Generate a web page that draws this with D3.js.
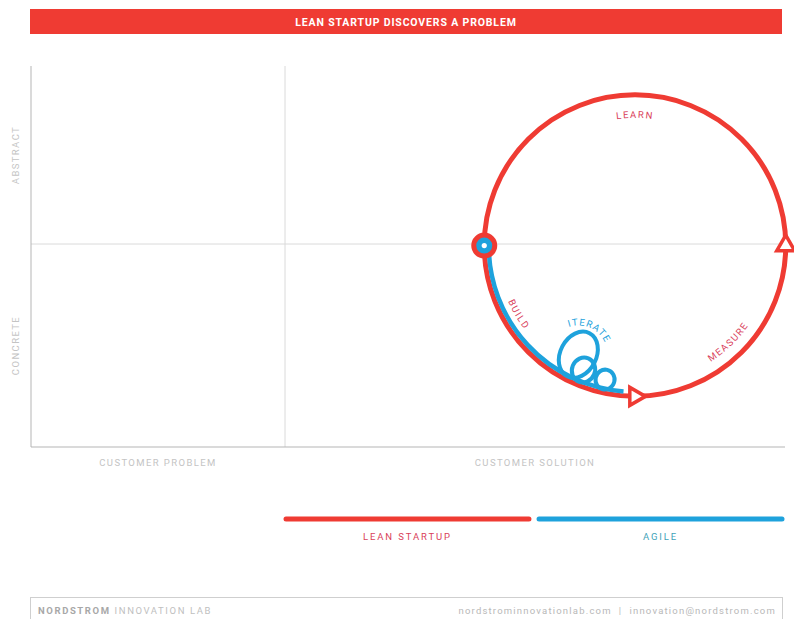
<!DOCTYPE html>
<html><head><meta charset="utf-8">
<script src="https://cdn.jsdelivr.net/npm/d3@7"></script>
<style>
html,body{margin:0;padding:0;background:#fff;}
svg{display:block;font-family:Roboto,"DejaVu Sans",sans-serif;}
</style></head>
<body>
<script>
// ---- data ----
const chartTitle = "LEAN STARTUP DISCOVERS A PROBLEM";
const xCategories = ["CUSTOMER PROBLEM", "CUSTOMER SOLUTION"];
const xBreaks = [0, 1, 3];
const yCategories = ["CONCRETE", "ABSTRACT"];
const yBreaks = [-1, 0, 1];
const cycleStages = ["BUILD", "MEASURE", "LEARN"];
const stageStart = [0, 1, 2];
const stageEnd = [1, 2, 4];
const stageLabelPhase = [0.34, 1.49, 3.0];
const cycleCenter = [2.4, -0.008];
const cycleRadius = 0.603;
const agileSpan = [0, 0.95];
const iterateLabel = "ITERATE";
const loopPhase = [0.695, 0.75, 0.86];
const loopSize = [0.072, 0.046, 0.038];
const loopStretch = [1.35, 1.1, 1.05];
const legendSeries = ["LEAN STARTUP", "AGILE"];
const footerLeft = ["NORDSTROM", " INNOVATION LAB"];
const footerRight = "nordstrominnovationlab.com  |  innovation@nordstrom.com";

// ---- styles ----
const RED = "#ef3b33", BLUE = "#1ea2dc", LABELRED = "#d9415a", LEGBLUE = "#3fa3b8";
const W = 794, H = 619;
const svg = d3.select("body").append("svg").attr("width", W).attr("height", H);

const x = d3.scaleLinear().domain(xBreaks).range([31, 285, 785]);
const y = d3.scaleLinear().domain(yBreaks).range([447, 244, 66]);
const rs = d3.scaleLinear().domain([0, 1]).range([0, 250]);
const phaseToAngle = d3.scaleLinear().domain([0, 4]).range([Math.PI, -Math.PI]);

// title bar
svg.append("rect").attr("x", 30).attr("y", 9).attr("width", 752).attr("height", 25).attr("fill", RED);
svg.append("text").attr("x", 406).attr("y", 25.5).attr("text-anchor", "middle")
  .attr("fill", "#fff").attr("font-size", 10.5).attr("font-weight", 700).attr("letter-spacing", 0.85)
  .text(chartTitle);

// grid
const g = svg.append("g");
g.append("line").attr("x1", x(1)).attr("x2", x(1)).attr("y1", y(1)).attr("y2", y(-1)).attr("stroke", "#dadada");
g.append("line").attr("x1", x(0)).attr("x2", x(3)).attr("y1", y(0)).attr("y2", y(0)).attr("stroke", "#dadada");
g.append("line").attr("x1", x(0)).attr("x2", x(0)).attr("y1", y(1)).attr("y2", y(-1)).attr("stroke", "#b5b5b5");
g.append("line").attr("x1", x(0)).attr("x2", x(3)).attr("y1", y(-1)).attr("y2", y(-1)).attr("stroke", "#b5b5b5");

// axis category labels
xCategories.forEach((c, i) => {
  svg.append("text").attr("x", (x(xBreaks[i]) + x(xBreaks[i + 1])) / 2).attr("y", 466)
    .attr("text-anchor", "middle").attr("fill", "#c4c4c4").attr("font-size", 9.5)
    .attr("letter-spacing", 1.4).text(c);
});
yCategories.forEach((c, i) => {
  const cy = (y(yBreaks[i]) + y(yBreaks[i + 1])) / 2;
  svg.append("text").attr("transform", `translate(18.5,${cy}) rotate(-90)`)
    .attr("text-anchor", "middle").attr("fill", "#c4c4c4").attr("font-size", 9.5)
    .attr("letter-spacing", 1.4).text(c);
});

// cycle
const cx = x(cycleCenter[0]), cy = y(cycleCenter[1]), R = rs(cycleRadius);
const pt = (phase, r) => [cx + r * Math.cos(phaseToAngle(phase)), cy + r * Math.sin(phaseToAngle(phase))];
const defs = svg.append("defs");

cycleStages.forEach((s, i) => {
  const p = d3.path();
  const s0 = pt(stageStart[i], R);
  p.moveTo(s0[0], s0[1]);
  p.arc(cx, cy, R, phaseToAngle(stageStart[i]), phaseToAngle(stageEnd[i]), true);
  svg.append("path").attr("d", p.toString()).attr("fill", "none").attr("stroke", RED).attr("stroke-width", 5);
});

// agile blue path along inner side
const rb = R - 4.5;
{
  const p = d3.path();
  const s0 = pt(agileSpan[0], rb);
  p.moveTo(s0[0], s0[1]);
  p.arc(cx, cy, rb, phaseToAngle(agileSpan[0]), phaseToAngle(agileSpan[1]), true);
  svg.append("path").attr("d", p.toString()).attr("fill", "none").attr("stroke", BLUE).attr("stroke-width", 4.5);
}
// loops (ellipses stretched along the radial direction, resting on the blue line)
const loopCenters = loopPhase.map((ph, i) => pt(ph, rb - rs(loopSize[i]) * loopStretch[i] + 1));
loopPhase.forEach((ph, i) => {
  const deg = phaseToAngle(ph) * 180 / Math.PI;
  svg.append("ellipse").attr("cx", 0).attr("cy", 0)
    .attr("rx", rs(loopSize[i]) * loopStretch[i]).attr("ry", rs(loopSize[i]))
    .attr("transform", `translate(${loopCenters[i][0]},${loopCenters[i][1]}) rotate(${deg})`)
    .attr("fill", "none").attr("stroke", BLUE).attr("stroke-width", 4);
});
// ITERATE curved label
{
  const lc = loopCenters[0], lr = rs(loopSize[0]) * loopStretch[0] + 5;
  const mid = -66 * Math.PI / 180, half = 62 * Math.PI / 180;
  const p = d3.path();
  p.moveTo(lc[0] + lr * Math.cos(mid - half), lc[1] + lr * Math.sin(mid - half));
  p.arc(lc[0], lc[1], lr, mid - half, mid + half, false);
  defs.append("path").attr("id", "iterPath").attr("d", p.toString());
  svg.append("text").attr("fill", BLUE).attr("font-size", 9.5).attr("letter-spacing", 1.1)
    .append("textPath").attr("href", "#iterPath").attr("startOffset", "50%").attr("text-anchor", "middle")
    .text(iterateLabel);
}

// stage labels along circle
cycleStages.forEach((s, i) => {
  const ph = stageLabelPhase[i];
  const a = phaseToAngle(ph);
  const lower = Math.sin(a) > 0.05;
  const p = d3.path();
  const span = 0.45;
  if (lower) {
    const r = R - 12;
    p.moveTo(cx + r * Math.cos(a + span), cy + r * Math.sin(a + span));
    p.arc(cx, cy, r, a + span, a - span, true);
  } else {
    const r = R - 23;
    p.moveTo(cx + r * Math.cos(a - span), cy + r * Math.sin(a - span));
    p.arc(cx, cy, r, a - span, a + span, false);
  }
  defs.append("path").attr("id", "lab" + i).attr("d", p.toString());
  svg.append("text").attr("fill", LABELRED).attr("font-size", 9.5).attr("letter-spacing", 1.5)
    .append("textPath").attr("href", "#lab" + i).attr("startOffset", "50%").attr("text-anchor", "middle")
    .text(s);
});

// triangle markers at ends of build & measure
[0, 1].forEach(i => {
  const ph = stageEnd[i];
  const a = phaseToAngle(ph);
  const [px, py] = pt(ph, R);
  const dx = Math.sin(a), dy = -Math.cos(a);
  const rot = Math.atan2(dx, -dy) * 180 / Math.PI;
  svg.append("path").attr("d", d3.symbol().type(d3.symbolTriangle).size(140)())
    .attr("transform", `translate(${px},${py}) rotate(${rot})`)
    .attr("fill", "#fff").attr("stroke", RED).attr("stroke-width", 3.5).attr("stroke-linejoin", "miter");
});

// start marker
{
  const [px, py] = pt(stageStart[0], R);
  svg.append("circle").attr("cx", px).attr("cy", py).attr("r", 10.5).attr("fill", BLUE).attr("stroke", RED).attr("stroke-width", 5);
  svg.append("circle").attr("cx", px).attr("cy", py).attr("r", 2.6).attr("fill", "#fff");
}

// legend
const legX = d3.scaleBand().domain(legendSeries).range([286, 782]).paddingInner(0.04);
const legColor = d3.scaleOrdinal().domain(legendSeries).range([RED, BLUE]);
const legText = d3.scaleOrdinal().domain(legendSeries).range([LABELRED, LEGBLUE]);
legendSeries.forEach(s => {
  svg.append("line").attr("x1", legX(s)).attr("x2", legX(s) + legX.bandwidth()).attr("y1", 519).attr("y2", 519)
    .attr("stroke", legColor(s)).attr("stroke-width", 5).attr("stroke-linecap", "round");
  svg.append("text").attr("x", legX(s) + legX.bandwidth() / 2).attr("y", 540).attr("text-anchor", "middle")
    .attr("fill", legText(s)).attr("font-size", 9.5).attr("letter-spacing", 1.9).text(s);
});

// footer
svg.append("rect").attr("x", 30.5).attr("y", 597.5).attr("width", 752).attr("height", 40)
  .attr("fill", "none").attr("stroke", "#cfcfcf");
const ft = svg.append("text").attr("x", 38).attr("y", 614).attr("font-size", 9.5).attr("letter-spacing", 1.6);
ft.append("tspan").attr("fill", "#a8a8a8").attr("font-weight", 700).text(footerLeft[0]);
ft.append("tspan").attr("fill", "#c0c0c0").text(footerLeft[1]);
svg.append("text").attr("x", 776).attr("y", 614).attr("text-anchor", "end").attr("font-size", 9.5)
  .attr("letter-spacing", 1.2).attr("fill", "#b8b8b8").style("white-space", "pre").text(footerRight);
</script>
</body></html>
